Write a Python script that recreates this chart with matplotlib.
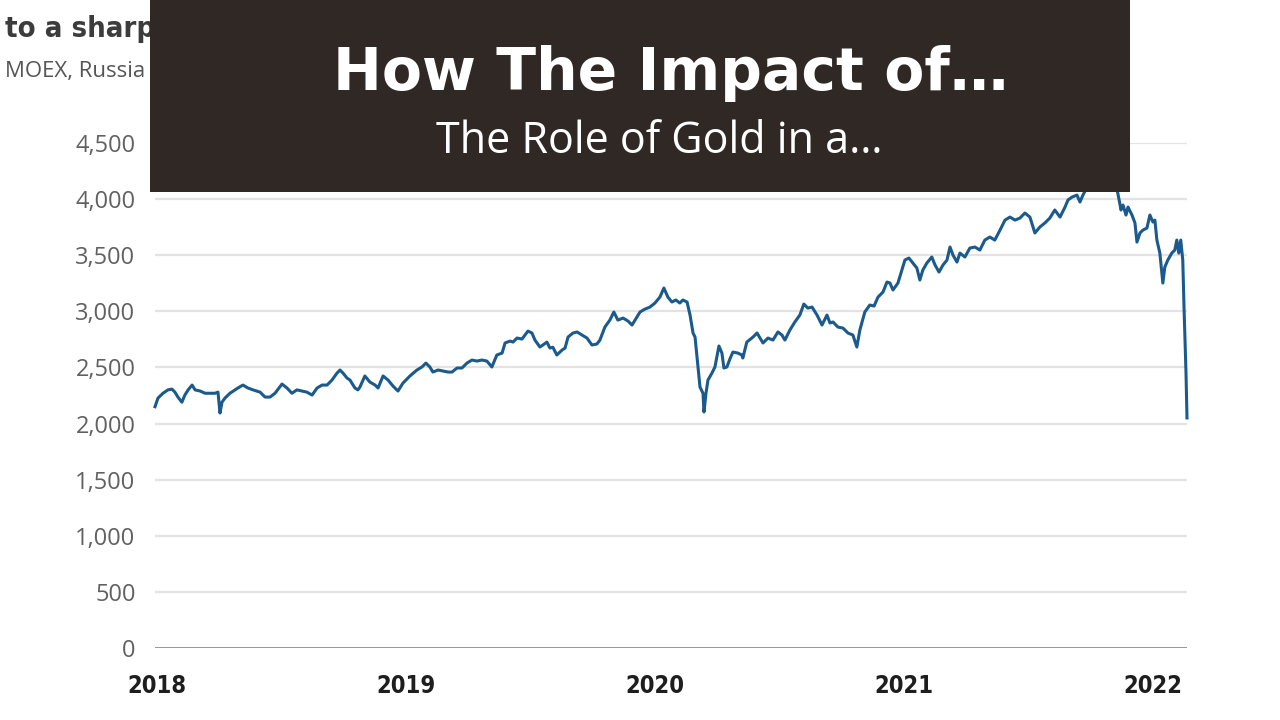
import numpy as np
import matplotlib
matplotlib.use('Agg')
import matplotlib.pyplot as plt
from matplotlib.patches import Rectangle
from matplotlib.ticker import FuncFormatter

# MOEX Russia index (decimal year, index level)
years = [2018.000, 2018.012, 2018.032, 2018.052, 2018.068, 2018.080, 2018.092, 2018.108,
         2018.120, 2018.133, 2018.149, 2018.161, 2018.181, 2018.201, 2018.221, 2018.241,
         2018.253, 2018.261, 2018.269, 2018.281, 2018.301, 2018.321, 2018.333, 2018.353,
         2018.373, 2018.394, 2018.422, 2018.442, 2018.462, 2018.482, 2018.510, 2018.530,
         2018.550, 2018.570, 2018.590, 2018.610, 2018.631, 2018.651, 2018.671, 2018.691,
         2018.711, 2018.731, 2018.743, 2018.755, 2018.771, 2018.783, 2018.803, 2018.815,
         2018.823, 2018.843, 2018.863, 2018.884, 2018.896, 2018.916, 2018.936, 2018.956,
         2018.976, 2018.996, 2019.024, 2019.052, 2019.072, 2019.088, 2019.104, 2019.116,
         2019.137, 2019.157, 2019.177, 2019.193, 2019.213, 2019.233, 2019.253, 2019.273,
         2019.293, 2019.313, 2019.333, 2019.353, 2019.373, 2019.394, 2019.406, 2019.426,
         2019.438, 2019.454, 2019.474, 2019.486, 2019.498, 2019.514, 2019.526, 2019.546,
         2019.558, 2019.574, 2019.586, 2019.598, 2019.614, 2019.635, 2019.647, 2019.659,
         2019.679, 2019.695, 2019.715, 2019.735, 2019.755, 2019.775, 2019.787, 2019.807,
         2019.827, 2019.843, 2019.859, 2019.880, 2019.900, 2019.916, 2019.928, 2019.948,
         2019.968, 2019.988, 2020.008, 2020.028, 2020.044, 2020.060, 2020.076, 2020.092,
         2020.108, 2020.120, 2020.137, 2020.149, 2020.161, 2020.169, 2020.177, 2020.189,
         2020.201, 2020.205, 2020.213, 2020.221, 2020.237, 2020.249, 2020.265, 2020.277,
         2020.285, 2020.297, 2020.309, 2020.321, 2020.341, 2020.357, 2020.361, 2020.377,
         2020.390, 2020.402, 2020.418, 2020.430, 2020.442, 2020.462, 2020.482, 2020.502,
         2020.518, 2020.530, 2020.550, 2020.570, 2020.590, 2020.606, 2020.622, 2020.639,
         2020.659, 2020.679, 2020.699, 2020.711, 2020.723, 2020.743, 2020.763, 2020.783,
         2020.803, 2020.819, 2020.831, 2020.851, 2020.871, 2020.888, 2020.904, 2020.924,
         2020.940, 2020.952, 2020.964, 2020.984, 2021.012, 2021.028, 2021.044, 2021.060,
         2021.072, 2021.084, 2021.100, 2021.120, 2021.133, 2021.149, 2021.165, 2021.181,
         2021.193, 2021.205, 2021.221, 2021.233, 2021.253, 2021.273, 2021.293, 2021.313,
         2021.333, 2021.353, 2021.373, 2021.394, 2021.414, 2021.434, 2021.454, 2021.474,
         2021.494, 2021.514, 2021.534, 2021.554, 2021.574, 2021.594, 2021.614, 2021.635,
         2021.655, 2021.667, 2021.683, 2021.703, 2021.715, 2021.727, 2021.755, 2021.795,
         2021.823, 2021.847, 2021.867, 2021.880, 2021.888, 2021.900, 2021.908, 2021.924,
         2021.936, 2021.944, 2021.956, 2021.968, 2021.984, 2021.996, 2022.008, 2022.016,
         2022.024, 2022.036, 2022.044, 2022.048, 2022.056, 2022.068, 2022.084, 2022.096,
         2022.104, 2022.112, 2022.120, 2022.128, 2022.133, 2022.141, 2022.145]
moex = [2150, 2227, 2270, 2300, 2307, 2280, 2236, 2190,
        2254, 2300, 2343, 2300, 2290, 2270, 2270, 2270,
        2280, 2094, 2190, 2227, 2270, 2300, 2317, 2343,
        2317, 2300, 2280, 2236, 2236, 2270, 2352, 2317,
        2270, 2300, 2290, 2280, 2254, 2317, 2343, 2343,
        2388, 2450, 2477, 2450, 2406, 2388, 2317, 2300,
        2325, 2424, 2370, 2343, 2317, 2424, 2388, 2334,
        2290, 2361, 2424, 2477, 2504, 2539, 2504, 2459,
        2477, 2468, 2459, 2459, 2495, 2495, 2539, 2566,
        2557, 2566, 2557, 2504, 2611, 2628, 2718, 2735,
        2726, 2762, 2753, 2789, 2824, 2807, 2744, 2682,
        2700, 2726, 2673, 2680, 2611, 2655, 2673, 2771,
        2807, 2816, 2789, 2762, 2700, 2709, 2744, 2860,
        2922, 2994, 2922, 2940, 2913, 2878, 2922, 2994,
        3020, 3038, 3074, 3127, 3208, 3127, 3083, 3101,
        3074, 3101, 3083, 2967, 2807, 2771, 2593, 2325,
        2270, 2103, 2270, 2388, 2450, 2504, 2691, 2628,
        2495, 2504, 2575, 2637, 2628, 2611, 2584, 2726,
        2750, 2771, 2807, 2762, 2718, 2762, 2744, 2816,
        2789, 2744, 2833, 2905, 2967, 3065, 3029, 3038,
        2967, 2878, 2967, 2896, 2905, 2860, 2851, 2807,
        2789, 2682, 2833, 2994, 3056, 3047, 3127, 3172,
        3261, 3252, 3190, 3252, 3457, 3475, 3430, 3386,
        3279, 3368, 3430, 3484, 3413, 3350, 3413, 3457,
        3573, 3502, 3439, 3519, 3484, 3564, 3573, 3546,
        3635, 3662, 3635, 3724, 3813, 3840, 3813, 3831,
        3876, 3840, 3698, 3751, 3787, 3831, 3903, 3840,
        3929, 3992, 4018, 4036, 3974, 4036, 4150, 4240,
        4285, 4200, 4054, 3903, 3947, 3858, 3929, 3858,
        3787, 3617, 3698, 3724, 3742, 3858, 3796, 3813,
        3635, 3519, 3341, 3252, 3395, 3457, 3519, 3546,
        3635, 3519, 3635, 3457, 3038, 2450, 2050]

y_ticks = [0, 500, 1000, 1500, 2000, 2500, 3000, 3500, 4000, 4500]
x_ticks = [2018, 2019, 2020, 2021, 2022]
x_labels = ['2018', '2019', '2020', '2021', '2022']

title = 'How The Impact of…'
subtitle = 'The Role of Gold in a…'

fig = plt.figure(figsize=(12.8, 7.2), dpi=100)
fig.patch.set_facecolor('white')
ax = fig.add_axes([155 / 1280, 1 - 648 / 720, (1187 - 155) / 1280, (648 - 143) / 720])

# gridlines
for v in y_ticks[1:]:
    ax.axhline(v, color='#e3e3e3', lw=1.6, zorder=1)
ax.axhline(0, color='#9a9a9a', lw=2.2, zorder=2)

ax.plot(years, moex, color='#1b5a8c', lw=2.2, zorder=3, clip_on=False)

ax.set_xlim(2018.0, 2022.145)
ax.set_ylim(0, 4500)
for s in ax.spines.values():
    s.set_visible(False)
ax.set_yticks(y_ticks)
ax.yaxis.set_major_formatter(FuncFormatter(lambda v, p: f'{int(v):,}'))
ax.tick_params(axis='y', length=0, pad=14, labelsize=17, labelcolor='#616161')
for lab in ax.get_yticklabels():
    lab.set_family('Open Sans')
ax.set_xticks([x + 0.008 for x in x_ticks])
ax.set_xticklabels(x_labels)
ax.tick_params(axis='x', length=0, pad=19, labelsize=17, labelcolor='#1e1e1e')
for lab in ax.get_xticklabels():
    lab.set_family('DejaVu Sans')
    lab.set_stretch('condensed')
    lab.set_weight('bold')

# original chart header, partly hidden behind the banner
fig.text(5 / 1280, 1 - 29 / 720, 'to a sharp fall', fontsize=21, fontweight='bold',
         family='DejaVu Sans', stretch='condensed', color='#3c3c3c', va='center', zorder=1)
fig.text(5 / 1280, 1 - 72 / 720, 'MOEX, Russia index', fontsize=16, family='Open Sans',
         color='#555555', va='center', zorder=1)

# dark banner with title
fig.add_artist(Rectangle((150 / 1280, 1 - 192 / 720), 980 / 1280, 192 / 720,
                         transform=fig.transFigure, facecolor='#302824', edgecolor='none', zorder=10))
fig.text(671 / 1280, 1 - 74 / 720, title, fontsize=42, fontweight='bold', family='DejaVu Sans',
         color='white', ha='center', va='center', zorder=11)
fig.text(659 / 1280, 1 - 142 / 720, subtitle, fontsize=31, family='Open Sans',
         color='white', ha='center', va='center', zorder=11)

fig.savefig('out.png', dpi=100, facecolor='white')
